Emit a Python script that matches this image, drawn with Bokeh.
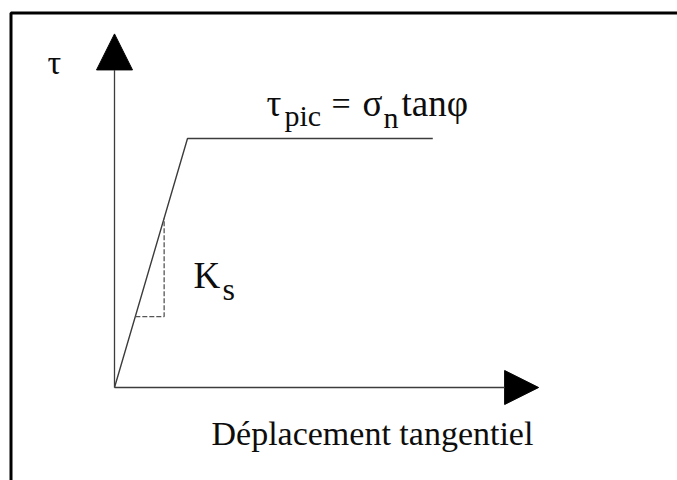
from bokeh.plotting import figure
from bokeh.models import Range1d, Arrow, NormalHead
from bokeh.core.properties import value
from bokeh.embed import file_html
from bokeh.resources import INLINE

# Idealised shear behaviour of a joint: linear elastic rise (stiffness Ks)
# up to the peak strength, then a perfectly plastic plateau.
displacement = [0.0, 1.0, 4.36]
shear_stress = [0.0, 1.0, 1.0]

# Stiffness triangle drawn along the elastic branch
ks_low, ks_high = 0.285, 0.68
ks_tri_x = [ks_low, ks_high, ks_high]
ks_tri_y = [ks_low, ks_low, ks_high]

# Axis extents (arrow tips) in data units
x_axis_end = 5.81
y_axis_end = 1.42

W, H = 677, 480
ORIGIN = (114, 387)      # pixel position of (0, 0)
SX, SY = 73.0, 249.0     # pixels per data unit


def dx(px):
    return (px - ORIGIN[0]) / SX


def dy(py):
    return (ORIGIN[1] - py) / SY


p = figure(width=W, height=H, output_backend="svg", toolbar_location=None,
           x_range=Range1d(dx(0), dx(W)), y_range=Range1d(dy(H), dy(0)),
           min_border=0, border_fill_color="white",
           background_fill_color="white")
p.axis.visible = False
p.grid.visible = False
p.outline_line_color = None

INK = "#0d0d0d"
LINE = "#3c3c3c"
SERIF = value("Liberation Serif")

# page frame (left and top rules)
p.line([dx(10.5), dx(10.5), dx(W + 5)], [dy(H + 5), dy(12.5), dy(12.5)],
       line_color="black", line_width=3)

# axes with filled arrow heads
p.add_layout(Arrow(x_start=0, y_start=0, x_end=0, y_end=y_axis_end,
                   line_color=LINE, line_width=1.3,
                   end=NormalHead(size=36, fill_color="black", line_color="black")))
p.add_layout(Arrow(x_start=0, y_start=0, x_end=x_axis_end, y_end=0,
                   line_color=LINE, line_width=1.3,
                   end=NormalHead(size=34, fill_color="black", line_color="black")))

# shear stress - displacement curve
p.line(displacement, shear_stress, line_color=LINE, line_width=1.4)

# stiffness triangle
p.line(ks_tri_x, ks_tri_y, line_color="#555555", line_width=1.3,
       line_dash="5 2")


def txt(x, y, s, size):
    p.text(x=[x], y=[y], text=[s], text_font=SERIF,
           text_font_size=f"{size}px", text_color=INK,
           text_align="left", text_baseline="alphabetic")


# axis labels
txt(dx(47), dy(62), "τ", 34)
txt(dx(211), dy(433), "Déplacement tangentiel", 34)

# peak strength label
txt(dx(266), dy(103), "τ", 37)
txt(dx(284), dy(115), "pic", 30)
txt(dx(331), dy(103), "=", 34)
txt(dx(362), dy(103), "σ", 37)
txt(dx(383), dy(117), "n", 30)
txt(dx(401), dy(103), "tanφ", 37)

# stiffness label
txt(dx(193), dy(275), "K", 37)
txt(dx(222), dy(288), "s", 32)

open("out.html", "w").write(file_html(p, INLINE))
